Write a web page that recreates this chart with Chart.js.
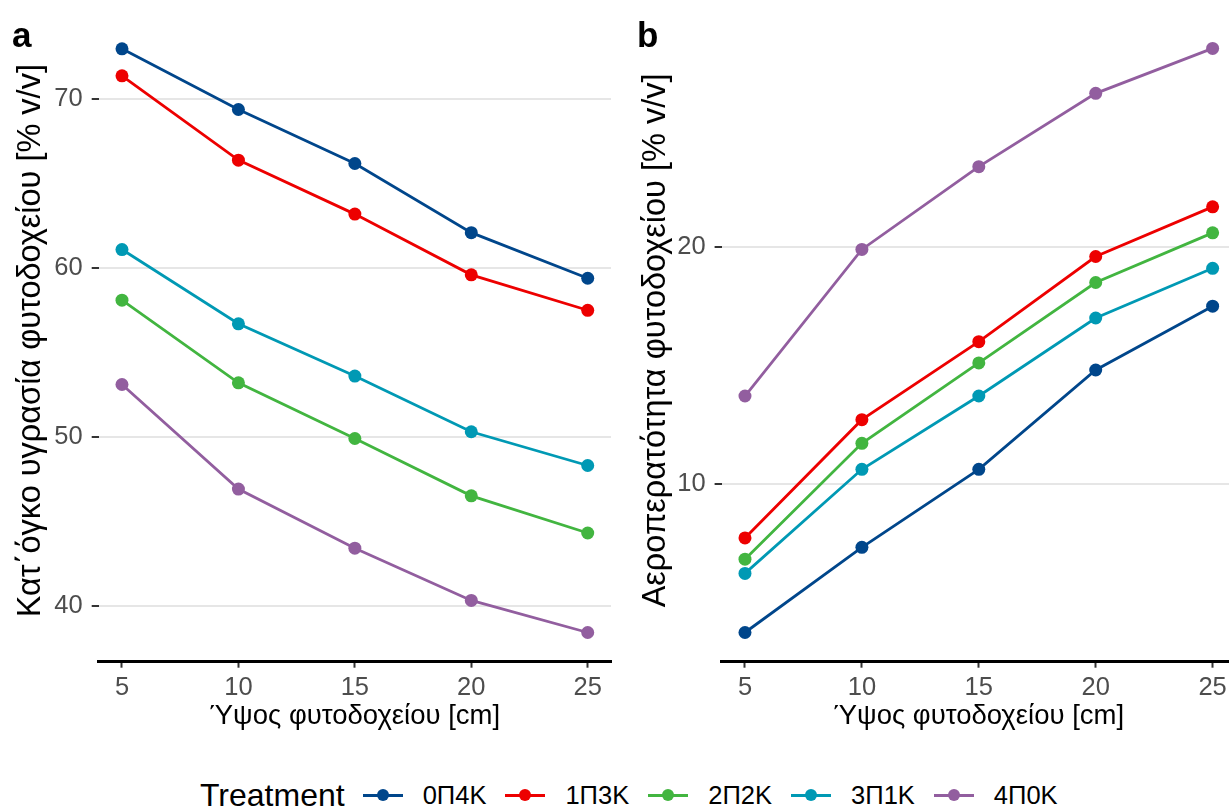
<!DOCTYPE html>
<html>
<head>
<meta charset="utf-8">
<script src="https://cdn.jsdelivr.net/npm/chart.js@4.4.0/dist/chart.umd.min.js"></script>
<style>
  html, body { margin: 0; padding: 0; background: #fff; overflow: hidden; width: 1229px; height: 807px; }
  .panel { position: absolute; top: 0; }
  #panelA { left: 0; }
  #panelB { left: 620px; }
  #legend {
    position: absolute; left: 200px; top: 774px; height: 42px;
    display: flex; align-items: center; white-space: nowrap;
    font-family: 'Liberation Sans', Arial, sans-serif; color: #000;
  }
  #legend .title { font-size: 32px; margin-right: 18px; }
  #legend .key { position: relative; width: 40px; height: 3px; margin-right: 20px; }
  #legend .key .dot { position: absolute; left: 14px; top: -4.5px; width: 12px; height: 12px; border-radius: 50%; }
  #legend .lab { font-size: 25.5px; margin-right: 19px; }
</style>
</head>
<body>
<canvas id="panelA" class="panel" width="620" height="760"></canvas>
<canvas id="panelB" class="panel" width="640" height="760"></canvas>
<div id="legend"></div>

<script>
// Container height (cm) on the x axis
const heights = [5, 10, 15, 20, 25];
const xTicks = [5, 10, 15, 20, 25];

const treatments = ['0Π4Κ', '1Π3Κ', '2Π2Κ', '3Π1Κ', '4Π0Κ'];
const colors = ['#00468B', '#ED0000', '#42B540', '#0099B4', '#925E9F'];

// Panel a: volumetric moisture content [% v/v]
const moisture0P4K = [73.0, 69.4, 66.2, 62.1, 59.4];
const moisture1P3K = [71.4, 66.4, 63.2, 59.6, 57.5];
const moisture2P2K = [58.1, 53.2, 49.9, 46.5, 44.3];
const moisture3P1K = [61.1, 56.7, 53.6, 50.3, 48.3];
const moisture4P0K = [53.1, 46.9, 43.4, 40.3, 38.4];
const moistureTicks = [40, 50, 60, 70];

// Panel b: air-filled porosity [% v/v]
const air0P4K = [3.7, 7.3, 10.6, 14.8, 17.5];
const air1P3K = [7.7, 12.7, 16.0, 19.6, 21.7];
const air2P2K = [6.8, 11.7, 15.1, 18.5, 20.6];
const air3P1K = [6.2, 10.6, 13.7, 17.0, 19.1];
const air4P0K = [13.7, 19.9, 23.4, 26.5, 28.4];
const airTicks = [10, 20];

const FONT = "'Liberation Sans', Arial, sans-serif";
Chart.defaults.font.family = FONT;
Chart.defaults.animation = false;

// 5% padding around the data range on both axes
function expanded(values) {
  const lo = Math.min(...values), hi = Math.max(...values);
  const pad = (hi - lo) * 0.05;
  return { min: lo - pad, max: hi + pad };
}

// Bold panel letter in the top-left corner
const panelTag = {
  id: 'panelTag',
  afterDraw(chart, args, opts) {
    const ctx = chart.ctx;
    ctx.save();
    ctx.font = 'bold ' + opts.size + 'px ' + FONT;
    ctx.fillStyle = '#000';
    ctx.textAlign = 'left';
    ctx.textBaseline = 'alphabetic';
    ctx.fillText(opts.text, opts.x, opts.y);
    ctx.restore();
  }
};

function makePanel(canvasId, seriesList, yTicks, cfg) {
  const xr = expanded(heights);
  const yr = expanded(seriesList.flat());
  const datasets = seriesList.map((vals, i) => ({
    label: treatments[i],
    data: heights.map((h, j) => ({ x: h, y: vals[j] })),
    borderColor: colors[i],
    backgroundColor: colors[i],
    borderWidth: 2.8,
    pointRadius: 6.5,
    pointBorderWidth: 0,
    pointHoverRadius: 6.5,
    tension: 0,
    clip: false
  }));
  return new Chart(document.getElementById(canvasId), {
    type: 'line',
    data: { datasets },
    options: {
      responsive: false,
      layout: { padding: { top: cfg.top, right: cfg.right, bottom: 0, left: 0 } },
      plugins: {
        legend: { display: false },
        tooltip: { enabled: false },
        panelTag: cfg.tag
      },
      scales: {
        x: {
          type: 'linear',
          min: xr.min, max: xr.max,
          afterBuildTicks: s => { s.ticks = xTicks.map(v => ({ value: v })); },
          afterFit: s => { s.height = cfg.xAxisHeight; s.paddingLeft = 0; s.paddingRight = 0; },
          grid: { display: true, drawOnChartArea: false, drawTicks: true, tickLength: 6, tickColor: '#333333', tickWidth: 2 },
          border: { display: true, color: '#000000', width: 3 },
          ticks: { color: '#4D4D4D', font: { size: 25.5 }, padding: 5, maxRotation: 0, autoSkip: false },
          title: {
            display: true, text: 'Ύψος φυτοδοχείου [cm]', color: '#000',
            font: { size: 27.5, lineHeight: 1.2 }, padding: { top: 0, bottom: 27 }
          }
        },
        y: {
          type: 'linear',
          min: yr.min, max: yr.max,
          afterBuildTicks: s => { s.ticks = yTicks.map(v => ({ value: v })); },
          afterFit: s => { s.width = cfg.yAxisWidth; s.paddingTop = 0; s.paddingBottom = 0; },
          grid: { display: true, drawOnChartArea: true, color: '#E6E6E6', lineWidth: 2, drawTicks: true, tickLength: 7, tickColor: '#333333', tickWidth: 2 },
          border: { display: false },
          ticks: { color: '#4D4D4D', font: { size: 25.5 }, padding: 9 },
          title: {
            display: true, text: cfg.yTitle, color: '#000',
            font: { size: 32.5, lineHeight: 1.2 }, padding: { top: cfg.yTitlePad, bottom: 0 }
          }
        }
      }
    },
    plugins: [panelTag]
  });
}

makePanel('panelA',
  [moisture0P4K, moisture1P3K, moisture2P2K, moisture3P1K, moisture4P0K],
  moistureTicks,
  {
    top: 19.6, right: 9, xAxisHeight: 98.3, yAxisWidth: 98.7, yTitlePad: 11.5,
    yTitle: 'Κατ΄όγκο υγρασία φυτοδοχείου [% v/v]',
    tag: { text: 'a', x: 12, y: 46.5, size: 35 }
  });

makePanel('panelB',
  [air0P4K, air1P3K, air2P2K, air3P1K, air4P0K],
  airTicks,
  {
    top: 19.2, right: 24, xAxisHeight: 98.3, yAxisWidth: 101.6, yTitlePad: 16.5,
    yTitle: 'Αεροπερατότητα φυτοδοχείου [% v/v]',
    tag: { text: 'b', x: 17, y: 46.5, size: 35 }
  });

// Shared legend below both panels
const legend = document.getElementById('legend');
const head = document.createElement('span');
head.className = 'title';
head.textContent = 'Treatment';
legend.appendChild(head);
treatments.forEach((name, i) => {
  const key = document.createElement('span');
  key.className = 'key';
  key.style.background = colors[i];
  const dot = document.createElement('span');
  dot.className = 'dot';
  dot.style.background = colors[i];
  key.appendChild(dot);
  const lab = document.createElement('span');
  lab.className = 'lab';
  lab.textContent = name;
  legend.appendChild(key);
  legend.appendChild(lab);
});
</script>
</body>
</html>
